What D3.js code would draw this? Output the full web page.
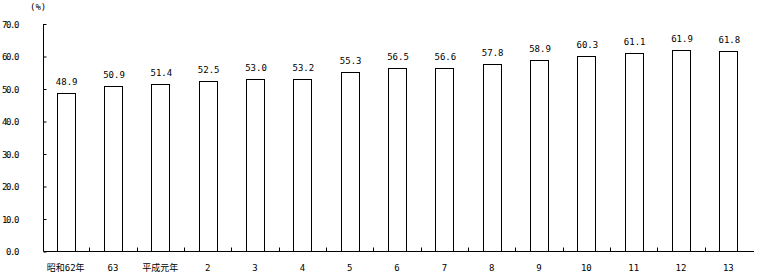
<!DOCTYPE html>
<html lang="ja">
<head>
<meta charset="UTF-8">
<title>chart</title>
<script src="https://d3js.org/d3.v7.min.js"></script>
<style>
  body { margin: 0; background: #fff; }
  text { font-family: "DejaVu Sans Mono", "Noto Sans CJK JP", monospace; font-size: 9px; fill: #000; }
  .ytick text { letter-spacing: -1.4px; }
</style>
</head>
<body>
<svg id="chart"></svg>
<script>
    // カテゴリ(年)
    var categories = ["昭和62年", "63", "平成元年", "2", "3", "4", "5", "6", "7", "8", "9", "10", "11", "12", "13"];
    // 値(%)
    var values = [48.9, 50.9, 51.4, 52.5, 53.0, 53.2, 55.3, 56.5, 56.6, 57.8, 58.9, 60.3, 61.1, 61.9, 61.8];
    // 目盛り
    var yTicks = [0, 10, 20, 30, 40, 50, 60, 70];

    (function() {
        var width = 758;
        var height = 274;
        var mLeft = 43.5, mRight = 754, mTop = 24, mBottom = 251.5;

        var svg = d3.select("#chart").attr("width", width).attr("height", height);

        var x = d3.scaleBand().domain(categories).range([42, 752]).paddingInner(0.62).paddingOuter(0.31);
        var y = d3.scaleLinear().domain([0, 70]).range([mBottom, mTop]);

        // 棒
        svg.selectAll("rect.bar")
            .data(values)
            .enter()
            .append("rect")
            .attr("class", "bar")
            .attr("x", function(d, i) { return Math.round(x(categories[i])) + 0.5; })
            .attr("y", function(d) { return Math.round(y(d)) + 0.5; })
            .attr("width", Math.round(x.bandwidth()))
            .attr("height", function(d) { return mBottom - Math.round(y(d)) - 0.5; })
            .attr("fill", "#fff")
            .attr("stroke", "#000")
            .attr("stroke-width", 1);

        // 値ラベル
        svg.selectAll("text.val")
            .data(values)
            .enter()
            .append("text")
            .attr("class", "val")
            .attr("x", function(d, i) { return x(categories[i]) + x.bandwidth() / 2 + 1; })
            .attr("y", function(d) { return y(d) - 8; })
            .attr("text-anchor", "middle")
            .text(function(d) { return d.toFixed(1); });

        // Y軸
        var yAxis = d3.axisLeft(y).tickValues(yTicks).tickSize(-3).tickFormat(function(d) { return d3.format(".1f")(d); });
        var gy = svg.append("g").attr("class", "ytick").attr("transform", "translate(" + mLeft + ",0)").call(yAxis);
        gy.select(".domain").attr("d", "M0," + mTop + "V" + mBottom).attr("stroke", "#000");
        gy.selectAll(".tick line").attr("stroke", "#000");
        gy.selectAll(".tick text").attr("x", 18 - mLeft).attr("dy", "0.35em");
        gy.attr("font-family", null).attr("font-size", null);

        // X軸
        var xAxis = d3.axisBottom(x).tickSize(0).tickPadding(13);
        var gx = svg.append("g").attr("transform", "translate(0," + mBottom + ")").call(xAxis);
        gx.select(".domain").attr("d", "M" + mLeft + ",0H" + mRight).attr("stroke", "#000");
        gx.attr("font-family", null).attr("font-size", null);
        gx.selectAll(".tick text").attr("dy", "0.71em");

        // 区切り目盛り
        svg.selectAll("line.sep")
            .data(categories.slice(1))
            .enter()
            .append("line")
            .attr("class", "sep")
            .attr("x1", function(d) { return Math.round(x(d) - x.step() * x.paddingInner() / 2) + 0.5; })
            .attr("x2", function(d) { return Math.round(x(d) - x.step() * x.paddingInner() / 2) + 0.5; })
            .attr("y1", mBottom)
            .attr("y2", mBottom - 4)
            .attr("stroke", "#000");

        // 単位
        svg.append("text").attr("x", 30).attr("y", 10).text("(%)");
    })();
</script>
</body>
</html>
